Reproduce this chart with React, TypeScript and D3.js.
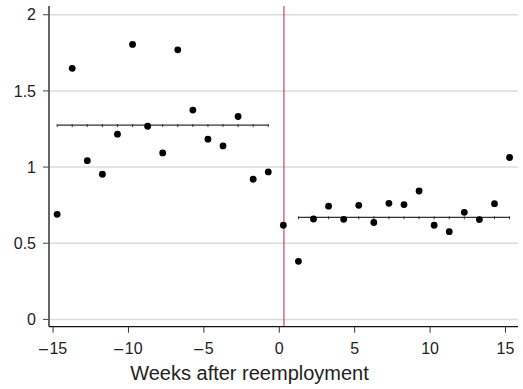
import React from "react";
import * as d3 from "d3";

// weeks relative to reemployment
const weeksBefore = [-15, -14, -13, -12, -11, -10, -9, -8, -7, -6, -5, -4, -3, -2, -1];
const valuesBefore = [0.69, 1.648, 1.042, 0.953, 1.216, 1.805, 1.268, 1.093, 1.77, 1.374, 1.183, 1.139, 1.332, 0.92, 0.968];
const weeksAfter = [0, 1, 2, 3, 4, 5, 6, 7, 8, 9, 10, 11, 12, 13, 14, 15];
const valuesAfter = [0.618, 0.381, 0.659, 0.743, 0.657, 0.749, 0.636, 0.762, 0.754, 0.843, 0.618, 0.576, 0.703, 0.655, 0.76, 1.063];

// fitted levels before / after
const levelBefore = 1.276;
const levelAfter = 0.67;
const fitWeeksBefore = weeksBefore;
const fitWeeksAfter = weeksAfter.slice(1);

const xTicks = [-15, -10, -5, 0, 5, 10, 15];
const yTicks = [0, 0.5, 1, 1.5, 2];
const cutoff = 0.31;
const shift = 0.27;

const W = 523;
const H = 389;
const left = 49;
const right = 518;
const top = 6;
const bottom = 326.7;

export default function App() {
  const x = d3.scaleLinear().domain([-15.27, 15.83]).range([left, right]);
  const y = d3.scaleLinear().domain([-0.048, 2.0575]).range([bottom, top]);
  const font = "'Liberation Sans', Arial, Helvetica, sans-serif";

  const fitLine = (weeks: number[], level: number) => (
    <g>
      <path
        d={d3.line<number>().x((d) => x(d + shift)).y(() => y(level))(weeks) || ""}
        stroke="#333"
        strokeWidth={1.3}
        fill="none"
      />
      {weeks.map((w) => (
        <line
          key={w}
          x1={x(w + shift)}
          x2={x(w + shift)}
          y1={y(level) - 1}
          y2={y(level) + 2}
          stroke="#333"
          strokeWidth={1}
        />
      ))}
    </g>
  );

  return (
    <svg
      width={W}
      height={H}
      style={{ position: "absolute", left: 0, top: 0, background: "#fff" }}
      fontFamily={font}
    >
      {yTicks.map((t) => (
        <g key={t}>
          <line x1={left} x2={right} y1={y(t)} y2={y(t)} stroke="#dcdcdc" strokeWidth={1.5} />
          <line x1={left - 6} x2={left} y1={y(t)} y2={y(t)} stroke="#444" strokeWidth={1} />
          <text x={36} y={y(t) + 5.6} textAnchor="end" fontSize={16} fill="#222">
            {t}
          </text>
        </g>
      ))}

      <line x1={x(cutoff)} x2={x(cutoff)} y1={top} y2={bottom} stroke="#c8203a" strokeWidth={1} />

      {fitLine(fitWeeksBefore, levelBefore)}
      {fitLine(fitWeeksAfter, levelAfter)}

      {weeksBefore.map((w, i) => (
        <circle key={"b" + w} cx={x(w + shift)} cy={y(valuesBefore[i])} r={3.4} fill="#000" />
      ))}
      {weeksAfter.map((w, i) => (
        <circle key={"a" + w} cx={x(w + shift)} cy={y(valuesAfter[i])} r={3.4} fill="#000" />
      ))}

      <line x1={left} x2={left} y1={top} y2={bottom} stroke="#555" strokeWidth={1.8} />
      <line x1={left} x2={right} y1={bottom} y2={bottom} stroke="#111" strokeWidth={1.3} />

      {xTicks.map((t) => (
        <g key={t}>
          <line x1={x(t)} x2={x(t)} y1={bottom} y2={bottom + 6} stroke="#333" strokeWidth={1} />
          <text x={x(t)} y={354} textAnchor="middle" fontSize={16} fill="#222">
            {t < 0 ? (
              <>
                <tspan>{"\u2013"}</tspan>
                <tspan dx={1.5}>{Math.abs(t)}</tspan>
              </>
            ) : (
              String(t)
            )}
          </text>
        </g>
      ))}

      <text x={249.5} y={380} textAnchor="middle" fontSize={20} fill="#222">
        Weeks after reemployment
      </text>
    </svg>
  );
}
